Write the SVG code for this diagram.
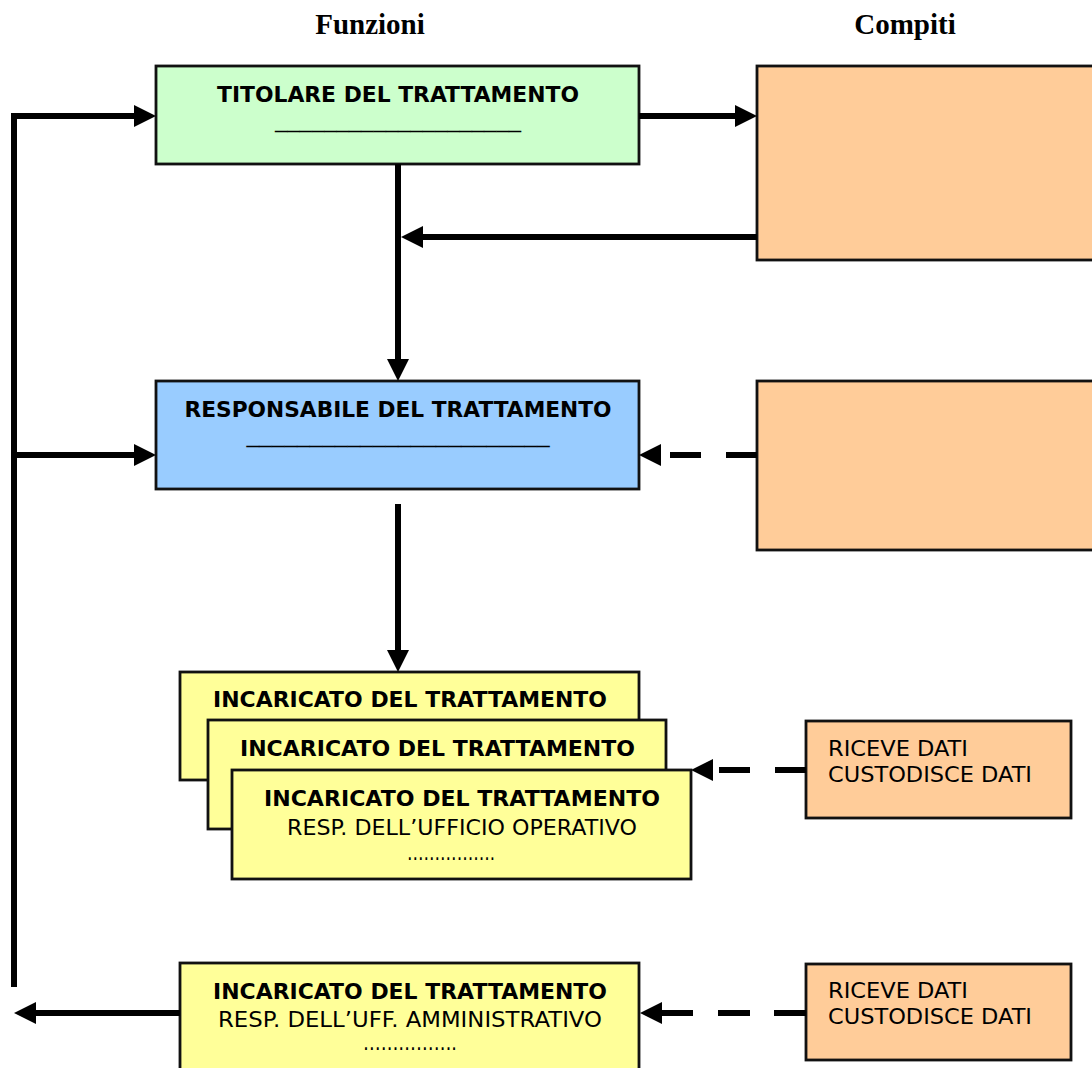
<svg xmlns="http://www.w3.org/2000/svg" width="1092" height="1068" viewBox="0 0 1092 1068">
<style>
.box{stroke:#111;stroke-width:2.8}
.g{fill:#CCFFCC}.b{fill:#99CCFF}.o{fill:#FFCC99}.y{fill:#FFFF99}
.h{font-family:"Liberation Serif","Times New Roman",serif;font-weight:bold;font-size:29px;fill:#000;text-anchor:middle}
.t{font-family:"DejaVu Sans",Verdana,sans-serif;font-weight:bold;font-size:21px;fill:#000;text-anchor:middle}
.r{font-family:"DejaVu Sans",Verdana,sans-serif;font-size:21px;fill:#000}
.rc{text-anchor:middle}
.c{fill:none;stroke:#000;stroke-width:6;stroke-linejoin:miter}
.a{marker-end:url(#ah)}
.d{stroke-dasharray:31 25}
</style>
<defs>
<marker id="ah" markerUnits="userSpaceOnUse" markerWidth="22" markerHeight="22" refX="10" refY="11" orient="auto" viewBox="0 0 22 22">
<path d="M0,0 L22,11 L0,22 z" fill="#000"/>
</marker>
</defs>
<rect width="1092" height="1068" fill="#fff"/>
<text class="h" x="370" y="34">Funzioni</text>
<text class="h" x="905" y="34">Compiti</text>

<g id="titolare">
<rect class="box g" x="156" y="66" width="483" height="98"/>
<text class="t" x="398" y="102" textLength="362" lengthAdjust="spacingAndGlyphs">TITOLARE DEL TRATTAMENTO</text>
<text class="r rc" x="398" y="127" textLength="246" lengthAdjust="spacingAndGlyphs">____________________</text>
</g>
<g id="compiti-titolare">
<rect class="box o" x="757" y="66" width="340" height="194"/>
</g>
<g id="responsabile">
<rect class="box b" x="156" y="381" width="483" height="108"/>
<text class="t" x="398" y="417" textLength="427" lengthAdjust="spacingAndGlyphs">RESPONSABILE DEL TRATTAMENTO</text>
<text class="r rc" x="398" y="442" textLength="303" lengthAdjust="spacingAndGlyphs">________________________</text>
</g>
<g id="compiti-responsabile">
<rect class="box o" x="757" y="381" width="340" height="169"/>
</g>
<g id="incaricato-1">
<rect class="box y" x="180" y="672" width="459" height="108"/>
<text class="t" x="410" y="707" textLength="394" lengthAdjust="spacingAndGlyphs">INCARICATO DEL TRATTAMENTO</text>
</g>
<g id="incaricato-2">
<rect class="box y" x="208" y="720" width="458" height="109"/>
<text class="t" x="437.5" y="756" textLength="395" lengthAdjust="spacingAndGlyphs">INCARICATO DEL TRATTAMENTO</text>
</g>
<g id="incaricato-3">
<rect class="box y" x="232" y="770" width="459" height="109"/>
<text class="t" x="462" y="806" textLength="396" lengthAdjust="spacingAndGlyphs">INCARICATO DEL TRATTAMENTO</text>
<text class="r rc" x="462" y="835" textLength="350" lengthAdjust="spacingAndGlyphs">RESP. DELL’UFFICIO OPERATIVO</text>
<text class="r rc" x="451" y="860" textLength="88" lengthAdjust="spacingAndGlyphs">…………….</text>
</g>
<g id="compiti-operativo">
<rect class="box o" x="806" y="721" width="265" height="97"/>
<text class="r" x="828" y="756" textLength="140" lengthAdjust="spacingAndGlyphs">RICEVE DATI</text>
<text class="r" x="828" y="782" textLength="204" lengthAdjust="spacingAndGlyphs">CUSTODISCE DATI</text>
</g>
<g id="incaricato-amministrativo">
<rect class="box y" x="180" y="963" width="459" height="110"/>
<text class="t" x="410" y="999" textLength="394" lengthAdjust="spacingAndGlyphs">INCARICATO DEL TRATTAMENTO</text>
<text class="r rc" x="410" y="1027" textLength="384" lengthAdjust="spacingAndGlyphs">RESP. DELL’UFF. AMMINISTRATIVO</text>
<text class="r rc" x="410" y="1050" textLength="94" lengthAdjust="spacingAndGlyphs">…………….</text>
</g>
<g id="compiti-amministrativo">
<rect class="box o" x="806" y="964" width="265" height="96"/>
<text class="r" x="828" y="998" textLength="140" lengthAdjust="spacingAndGlyphs">RICEVE DATI</text>
<text class="r" x="828" y="1024" textLength="204" lengthAdjust="spacingAndGlyphs">CUSTODISCE DATI</text>
</g>

<g id="connectors">
<path class="c a" d="M14,987 V116 H144"/>
<path class="c a" d="M14,455 H144"/>
<path class="c a" d="M639,116 H745"/>
<path class="c a" d="M757,237 H413"/>
<path class="c a" d="M398,164 V369"/>
<path class="c a" d="M398,504 V660"/>
<path class="c a" d="M180,1013 H26"/>
<path class="c d" d="M757,455 H670"/>
<path class="c a" d="M661,455 H651"/>
<path class="c d" d="M806,770 H718"/>
<path class="c a" d="M713,770 H703"/>
<path class="c" d="M806,1013 H774 M750,1013 H718"/>
<path class="c a" d="M693,1013 H652"/>
</g>
</svg>
